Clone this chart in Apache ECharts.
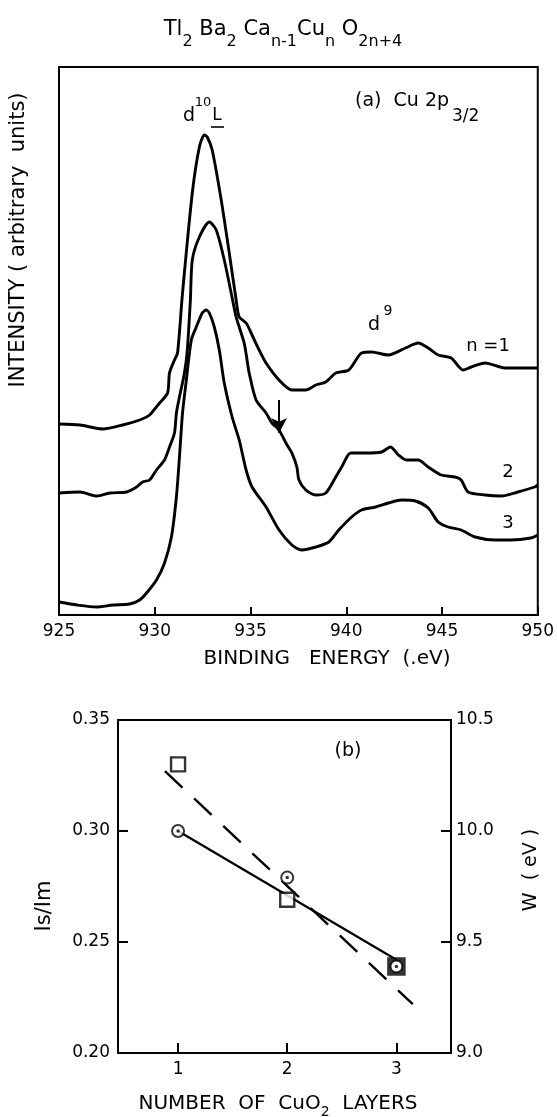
<!DOCTYPE html>
<html><head><meta charset="utf-8">
<script src="https://cdn.jsdelivr.net/npm/echarts@6/dist/echarts.min.js"></script>
<style>html,body{margin:0;padding:0;background:#fff}#c{width:557px;height:1117px}</style>
</head><body><div id="c"></div>
<script>
// ---- panel (a): Cu 2p3/2 spectra (intensity in arbitrary units) ----
const energyN1 = [925.0,926.09,927.29,928.33,929.21,929.73,930.25,930.67,930.77,931.03,931.19,931.45,931.96,932.33,932.59,932.74,933.00,933.47,933.89,934.25,934.41,934.77,935.08,935.45,935.81,936.49,937.16,937.89,938.41,938.93,939.45,940.13,940.80,941.32,942.20,943.09,943.76,944.28,944.80,945.48,946.10,946.52,947.25,948.28,950.0];
const intensityN1 = [191,190,186,190,195,200,212,222,242,255,262,322,422,468,480,478,465,415,362,315,298,292,280,265,252,235,225,225,230,233,242,245,262,263,260,267,272,267,260,257,245,248,252,247,247];
const energyN2 = [925.0,926.09,926.98,927.65,928.53,929.05,929.37,929.73,930.09,930.51,930.77,931.03,931.13,931.29,931.55,931.70,931.86,931.96,932.33,932.85,933.21,933.63,933.99,934.25,934.41,934.67,934.82,934.93,935.29,935.81,936.12,936.49,936.85,937.16,937.42,937.53,937.89,938.41,938.93,939.45,939.76,940.23,941.01,941.84,942.31,942.72,943.14,943.76,944.28,944.96,945.69,946.00,946.36,947.25,948.08,948.96,949.84,950.0];
const intensityN2 = [122,123,119,122,123,128,133,135,145,155,168,182,202,218,242,265,315,355,378,393,385,355,322,298,288,272,255,242,215,202,192,185,172,162,148,135,125,120,122,138,148,162,162,163,168,160,155,155,148,140,138,135,123,120,119,123,128,130];
const energyN3 = [925.0,925.94,926.98,927.81,928.69,929.21,929.57,930.09,930.51,930.87,931.13,931.29,931.45,931.65,931.91,932.17,932.48,932.69,932.85,933.11,933.37,933.63,934.04,934.41,934.77,935.08,935.81,936.49,937.16,937.68,938.41,939.09,939.61,940.28,940.80,941.53,942.20,942.88,943.61,944.28,944.80,945.32,946.00,946.73,947.77,948.60,949.64,950.0];
const intensityN3 = [13,10,8,10,11,15,22,35,52,78,118,158,202,235,275,288,302,305,302,288,265,232,198,175,145,128,108,85,70,65,68,73,85,98,105,108,112,115,114,107,93,88,85,78,75,75,77,80];
const arrowEnergy = 936.49;
const arrowFromTo = [215, 182];

// ---- panel (b) ----
const layers = [1, 2, 3];
const ratioIsIm = [0.300, 0.279, 0.239];
const widthW = [10.30, 9.69, 9.39];
const ratioFitX = [1, 3];
const ratioFitY = [0.300, 0.242];
const wFitX = [0.88, 3.15];
const wFitY = [10.27, 9.22];
const layerTicks = [1, 2, 3];

const zip = (a, b) => a.map((v, i) => [v, b[i]]);
const FF = 'DejaVu Sans';
const black = '#000';
const chart = echarts.init(document.getElementById('c'), null, {renderer: 'canvas'});

const curve = (e, i, extra) => Object.assign({
  type: 'line', xAxisIndex: 0, yAxisIndex: 0, data: zip(e, i), smooth: 0.25,
  symbol: 'none', lineStyle: {color: black, width: 2.9}, silent: true
}, extra || {});

const txt = (text, x, y, size, extra) => Object.assign({
  type: 'text', x: x, y: y, silent: true,
  style: {text: text, fontSize: size, fontFamily: FF, fill: black, align: 'center', verticalAlign: 'middle'}
}, extra || {});

chart.setOption({
  animation: false,
  backgroundColor: '#fff',
  grid: [
    {left: 59, top: 67, width: 481, height: 548, show: true, borderColor: black, borderWidth: 2, backgroundColor: 'transparent'},
    {left: 118, top: 720, width: 333, height: 333, show: true, borderColor: black, borderWidth: 2, backgroundColor: 'transparent'}
  ],
  xAxis: [
    {gridIndex: 0, type: 'value', min: 925, max: 950, interval: 5,
     axisLine: {lineStyle: {color: black, width: 2}},
     axisTick: {inside: true, length: 8, lineStyle: {color: black, width: 2}},
     axisLabel: {color: black, fontSize: 17, fontFamily: FF, margin: 8, showMinLabel: true, showMaxLabel: true},
     splitLine: {show: false}},
    {gridIndex: 1, type: 'value', min: 0.45, max: 3.5,
     axisLine: {lineStyle: {color: black, width: 2}},
     axisTick: {inside: true, length: 10, customValues: layerTicks, lineStyle: {color: black, width: 2}},
     axisLabel: {color: black, fontSize: 17, fontFamily: FF, margin: 8, customValues: layerTicks},
     splitLine: {show: false}}
  ],
  yAxis: [
    {gridIndex: 0, type: 'value', min: 0, max: 548,
     axisLine: {show: true, lineStyle: {color: black, width: 2}},
     axisTick: {show: false}, axisLabel: {show: false}, splitLine: {show: false}},
    {gridIndex: 1, type: 'value', min: 0.20, max: 0.35, interval: 0.05,
     axisLine: {show: true, lineStyle: {color: black, width: 2}},
     axisTick: {inside: true, length: 10, lineStyle: {color: black, width: 2}},
     axisLabel: {color: black, fontSize: 17, fontFamily: FF, margin: 8, formatter: v => v.toFixed(2)},
     splitLine: {show: false}},
    {gridIndex: 1, type: 'value', position: 'right', min: 9.0, max: 10.5, interval: 0.5,
     axisLine: {show: true, lineStyle: {color: black, width: 2}},
     axisTick: {inside: true, length: 10, lineStyle: {color: black, width: 2}},
     axisLabel: {color: black, fontSize: 17, fontFamily: FF, margin: 5, formatter: v => v.toFixed(1)},
     splitLine: {show: false}}
  ],
  series: [
    curve(energyN1, intensityN1),
    curve(energyN2, intensityN2, {
      markLine: {
        silent: true, symbol: ['none', 'arrow'], symbolSize: [12, 15],
        lineStyle: {color: black, type: 'solid', width: 2},
        label: {show: false},
        data: [[{coord: [arrowEnergy, arrowFromTo[0]]}, {coord: [arrowEnergy, arrowFromTo[1]]}]]
      }
    }),
    curve(energyN3, intensityN3),
    {type: 'line', xAxisIndex: 1, yAxisIndex: 1, data: zip(ratioFitX, ratioFitY), symbol: 'none',
     lineStyle: {color: black, width: 2.2}, silent: true},
    {type: 'line', xAxisIndex: 1, yAxisIndex: 2, data: zip(wFitX, wFitY), symbol: 'none',
     lineStyle: {color: black, width: 2.4, type: [24, 16]}, silent: true},
    {type: 'scatter', xAxisIndex: 1, yAxisIndex: 2, symbol: 'rect', symbolSize: 14,
     data: zip(layers, widthW).map((p, i) => i === layers.length - 1 ? {value: p, itemStyle: {borderWidth: 4.5}} : p),
     itemStyle: {color: '#fff', borderColor: black, borderWidth: 2.4}, silent: true, z: 3},
    {type: 'scatter', xAxisIndex: 1, yAxisIndex: 1, data: zip(layers, ratioIsIm), symbol: 'circle', symbolSize: 12,
     itemStyle: {color: '#fff', borderColor: black, borderWidth: 2}, silent: true, z: 4},
    {type: 'scatter', xAxisIndex: 1, yAxisIndex: 1, data: zip(layers, ratioIsIm), symbol: 'circle', symbolSize: 3.5,
     itemStyle: {color: black}, silent: true, z: 5}
  ],
  graphic: [
    txt('', 283, 30, 21, {
      style: {text: '{m|Tl}{s|2}{m| Ba}{s|2}{m| Ca}{s|n-1}{m|Cu}{s|n}{m| O}{s|2n+4}', fill: black,
        align: 'center', verticalAlign: 'middle', fontFamily: FF, fontSize: 21,
        rich: {m: {fontSize: 21, fontFamily: FF, lineHeight: 40, verticalAlign: 'middle'},
               s: {fontSize: 16, fontFamily: FF, lineHeight: 15, verticalAlign: 'bottom'}}}
    }),
    txt('INTENSITY ( arbitrary  units)', 19, 240, 21, {rotation: Math.PI / 2}),
    txt('BINDING   ENERGY  (.eV)', 327, 659, 20),
    txt('d', 189, 116, 19),
    txt('10', 203, 103, 13),
    txt('L', 217, 116, 17),
    {type: 'line', silent: true, shape: {x1: 211, y1: 127, x2: 224, y2: 127}, style: {stroke: black, lineWidth: 1.6}},
    txt('', 355, 101, 19, {style: {text: '(a)  Cu 2p', fontSize: 19, fontFamily: FF, fill: black, align: 'left', verticalAlign: 'middle'}}),
    txt('', 452, 117, 17, {style: {text: '3/2', fontSize: 17, fontFamily: FF, fill: black, align: 'left', verticalAlign: 'middle'}}),
    txt('d', 374, 325, 19),
    txt('9', 388, 311, 14),
    txt('n =1', 488, 346, 18),
    txt('2', 508, 472, 18),
    txt('3', 508, 523, 18),
    txt('(b)', 348, 751, 19),
    txt('Is/Im', 45, 906, 21, {rotation: Math.PI / 2}),
    txt('W  ( eV )', 531, 870, 19, {rotation: Math.PI / 2}),
    txt('', 278, 1104, 20, {
      style: {text: '{m|NUMBER  OF  CuO}{s|2}{m|  LAYERS}', fill: black, align: 'center', verticalAlign: 'middle',
        fontFamily: FF, fontSize: 20,
        rich: {m: {fontSize: 20, fontFamily: FF, lineHeight: 30, verticalAlign: 'middle'},
               s: {fontSize: 14, fontFamily: FF, lineHeight: 14, verticalAlign: 'bottom'}}}
    })
  ]
});
</script>
</body></html>
